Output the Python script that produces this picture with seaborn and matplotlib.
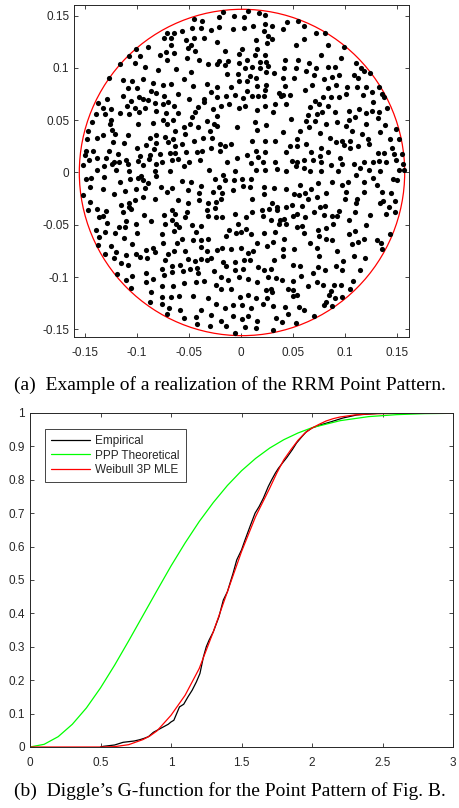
import matplotlib
matplotlib.use("Agg")
import matplotlib.pyplot as plt
import seaborn as sns
import pandas as pd
from matplotlib.patches import Circle

# ---------------- data: point pattern (coordinates in units of 1e-3) ----------------
points_milli = [
    # upper-left
    (-57,135),(-64,133),(-71,133),(-74,129),(-67,129),(-53,127),(-67,122),(-89,120),(-101,118),(-107,111),
    (-97,111),(-72,115),(-64,114),(-78,112),(-71,108),(-52,109),(-116,104),(-102,105),(-92,101),(-62,99),
    (-80,98),(-127,90),(-113,88),(-104,87),(-94,89),(-84,86),(-55,89),(-108,81),(-100,81),(-75,84),
    (-67,85),(-86,78),(-81,76),(-74,73),(-60,75),(-113,73),(-98,72),(-94,70),(-89,69),(-105,68),
    (-128,70),(-137,66),(-132,62),(-125,61),(-109,64),(-102,62),(-92,62),(-82,66),(-75,65),(-70,67),
    (-64,64),(-81,59),(-116,57),(-107,56),(-98,58),(-139,56),(-130,56),(-72,57),(-60,57),(-125,50),
    (-143,48),(-99,46),(-75,50),(-65,50),(-84,47),(-126,46),(-71,46),(-55,43),(-124,41),(-147,40),
    (-132,36),(-121,37),(-108,36),(-81,36),(-63,40),(-54,37),(-148,32),(-138,33),(-87,33),(-73,34),
    (-65,32),(-123,29),(-112,28),(-91,26),(-81,28),(-70,29),(-57,27),(-63,25),(-149,21),(-142,21),
    (-127,21),(-100,23),(-83,22),(-68,19),(-63,19),(-53,20),(-150,17),(-118,18),(-97,16),(-87,17),
    (-78,18),(-146,12),(-138,14),(-129,14),(-122,10),(-117,10),(-110,12),(-99,11),(-88,13),(-76,10),
    (-66,12),(-60,13),(-151,7),(-131,6),(-124,8),(-108,8),(-94,7),(-81,8),(-138,2),(-120,2),
    (-107,1),(-82,1),(-68,1),(-55,6),(-50,10),
    # lower-left
    (-149,-6),(-144,-5),(-131,-4),(-116,-9),(-106,-6),(-99,-5),(-96,-3),(-94,-7),(-89,-10),(-81,-3),
    (-57,-8),(-145,-14),(-132,-16),(-122,-21),(-111,-18),(-101,-16),(-92,-15),(-77,-14),(-71,-19),(-66,-15),
    (-51,-17),(-151,-22),(-145,-28),(-115,-31),(-107,-29),(-107,-33),(-102,-26),(-94,-23),(-82,-25),(-60,-26),
    (-51,-29),(-147,-36),(-138,-35),(-129,-37),(-113,-38),(-105,-35),(-136,-43),(-132,-42),(-128,-48),(-110,-46),
    (-93,-41),(-86,-46),(-74,-41),(-66,-36),(-63,-40),(-52,-38),(-73,-49),(-66,-45),(-62,-49),(-54,-43),
    (-139,-55),(-130,-57),(-121,-58),(-117,-52),(-111,-52),(-101,-49),(-100,-58),(-64,-56),(-59,-52),(-136,-62),
    (-112,-63),(-76,-59),(-57,-64),(-137,-69),(-125,-70),(-104,-68),(-75,-67),(-61,-67),(-130,-78),(-120,-76),
    (-110,-79),(-101,-78),(-97,-81),(-91,-74),(-84,-72),(-82,-76),(-70,-78),(-64,-75),(-54,-75),(-122,-82),
    (-115,-87),(-108,-88),(-90,-82),(-73,-84),(-66,-89),(-58,-88),(-51,-83),(-91,-96),(-76,-92),(-66,-95),
    (-56,-94),(-119,-97),(-104,-99),(-74,-98),(-110,-103),(-91,-105),(-84,-102),(-105,-110),(-76,-109),(-65,-109),
    (-55,-106),(-86,-114),(-76,-119),(-67,-119),(-59,-118),(-87,-124),(-76,-126),(-69,-130),(-71,-135),(-58,-131),
    (-55,-139),
    # upper-middle
    (-45,147),(-37,145),(-21,149),(-17,153),(-7,150),(3,149),(7,154),(17,152),(23,151),(-47,138),
    (-38,138),(-29,136),(-21,139),(-8,137),(3,138),(12,140),(23,142),(22,135),(30,140),(40,137),
    (44,144),(-45,129),(-35,129),(-23,125),(14,127),(26,130),(30,128),(25,124),(53,122),(-51,119),
    (-44,116),(-48,122),(-15,116),(1,118),(-2,113),(15,118),(23,112),(-40,108),(-32,104),(-23,104),
    (-21,107),(-15,103),(-12,107),(-2,105),(6,108),(13,112),(4,100),(11,101),(18,106),(24,106),
    (18,100),(26,102),(42,108),(53,100),(-48,96),(-13,94),(-3,94),(9,92),(24,96),(32,95),
    (41,100),(-2,87),(14,90),(40,90),(51,90),(-46,83),(-33,85),(-23,82),(-10,82),(6,87),
    (15,83),(24,84),(42,83),(-29,77),(6,78),(23,79),(-50,70),(-35,70),(-35,67),(-23,72),
    (-14,73),(-6,74),(2,71),(11,73),(16,73),(22,73),(36,76),(38,73),(40,74),(47,74),
    (-41,63),(-27,61),(-19,64),(-11,65),(-2,62),(4,64),(23,64),(33,65),(43,65),(-44,58),
    (-47,53),(-23,54),(15,60),(31,58),(48,51),(-33,49),(-26,46),(-49,46),(13,48),(24,45),
    (-41,43),(-30,40),(-23,44),(-4,43),(15,41),(40,39),(-36,33),(-28,33),(-45,30),(-20,27),
    (-15,25),(-10,27),(11,30),(23,30),(33,30),(47,25),(54,32),(-42,20),(-37,21),(-29,23),
    (-20,21),(6,17),(14,21),(23,20),(43,20),(-4,14),(10,9),(16,15),(21,10),(33,10),
    (49,11),(-39,12),(-31,2),(-13,10),(-6,1),(14,2),(23,2),(35,3),(43,1),(53,6),
    # upper-right
    (55,145),(60,140),(60,128),(72,133),(81,133),(83,122),(99,120),(77,112),(96,109),(55,108),
    (65,105),(62,97),(72,100),(83,101),(90,101),(110,105),(115,100),(118,97),(124,95),(70,93),
    (80,89),(87,91),(94,93),(108,93),(112,90),(68,84),(61,79),(83,81),(91,84),(102,82),
    (111,82),(120,82),(132,82),(126,77),(135,75),(137,72),(79,72),(86,72),(94,72),(101,75),
    (117,74),(71,68),(75,65),(66,63),(83,64),(127,67),(140,62),(78,58),(73,56),(64,55),
    (90,58),(104,59),(113,61),(120,57),(126,59),(132,58),(62,49),(71,49),(92,48),(101,44),
    (104,50),(109,53),(120,46),(131,52),(138,45),(149,42),(57,40),(65,43),(82,46),(76,38),
    (85,33),(91,29),(97,30),(105,30),(106,40),(116,37),(122,32),(133,39),(143,32),(152,32),
    (54,25),(62,27),(77,23),(67,20),(83,20),(95,14),(99,26),(105,23),(112,25),(123,27),
    (131,19),(137,19),(145,23),(147,18),(154,18),(54,10),(60,12),(69,12),(76,16),(77,10),
    (86,7),(97,8),(108,8),(114,4),(118,10),(127,10),(132,11),(139,10),(149,12),(155,8),
    (60,4),(66,1),(77,1),(93,1),(123,2),(133,1),(152,2),(156,2),
    # lower-middle
    (-48,-9),(-38,-13),(-25,-6),(-17,-2),(-15,-7),(-7,-7),(1,-6),(10,-6),(-40,-20),(-27,-19),
    (-21,-14),(-18,-20),(-8,-17),(2,-13),(9,-14),(22,-14),(22,-21),(32,-15),(43,-16),(51,-21),
    (-40,-26),(-32,-29),(-24,-28),(-19,-25),(11,-25),(30,-29),(35,-33),(35,-36),(20,-36),(27,-35),
    (43,-33),(49,-31),(-33,-36),(-25,-34),(-32,-42),(-24,-43),(-18,-43),(-6,-40),(5,-43),(11,-38),
    (21,-42),(29,-45),(37,-45),(41,-44),(50,-42),(-47,-50),(-38,-51),(-3,-49),(36,-49),(43,-49),
    (-43,-57),(-11,-55),(-5,-58),(0,-57),(5,-54),(10,-59),(22,-58),(33,-57),(-46,-65),(-38,-65),
    (-32,-64),(-14,-61),(15,-67),(25,-70),(31,-66),(41,-64),(-38,-71),(-33,-75),(-23,-74),(-18,-72),
    (-10,-73),(0,-72),(7,-77),(12,-75),(40,-73),(51,-73),(-44,-85),(-38,-83),(-33,-84),(-29,-82),
    (-17,-86),(-6,-86),(3,-84),(9,-84),(32,-84),(40,-80),(-49,-92),(-42,-91),(-41,-96),(-26,-94),
    (-14,-89),(-6,-93),(2,-92),(16,-90),(22,-93),(29,-92),(50,-88),(-43,-105),(-35,-104),(-24,-108),
    (-19,-100),(-19,-111),(-12,-103),(-2,-100),(7,-102),(15,-105),(26,-100),(34,-101),(39,-103),(50,-104),
    (24,-112),(29,-111),(30,-114),(45,-111),(50,-112),(-46,-118),(-32,-120),(-10,-111),(-1,-119),(7,-117),
    (14,-120),(25,-120),(50,-118),(-24,-126),(-15,-130),(-8,-127),(1,-127),(10,-130),(21,-126),(31,-128),
    (42,-129),(-38,-131),(-43,-138),(-29,-136),(-19,-142),(-8,-137),(1,-140),(7,-137),(15,-142),(34,-139),
    (39,-143),(53,-144),(45,-135),(-42,-145),(-30,-147),(-14,-147),(4,-148),(14,-149),(31,-151),(-6,-153),
    # lower-right
    (110,-2),(127,-5),(146,-6),(150,-7),(57,-12),(67,-16),(74,-10),(87,-9),(97,-12),(103,-9),
    (118,-9),(130,-12),(56,-22),(61,-20),(64,-25),(73,-23),(82,-20),(100,-25),(101,-19),(111,-25),
    (110,-29),(118,-19),(135,-19),(144,-20),(133,-29),(136,-27),(148,-27),(59,-32),(76,-33),(81,-32),
    (70,-38),(54,-40),(61,-43),(80,-41),(87,-42),(92,-42),(94,-37),(104,-45),(109,-38),(124,-41),
    (139,-40),(148,-38),(142,-33),(54,-52),(59,-51),(60,-58),(74,-55),(82,-53),(88,-49),(120,-50),
    (109,-56),(104,-59),(75,-61),(66,-67),(82,-64),(87,-65),(106,-68),(112,-66),(118,-64),(130,-65),
    (134,-67),(143,-59),(135,-73),(73,-72),(92,-75),(75,-80),(108,-80),(119,-82),(98,-85),(57,-89),
    (74,-90),(81,-93),(91,-89),(69,-96),(97,-93),(114,-93),(58,-99),(73,-105),(79,-108),(89,-108),
    (96,-108),(107,-104),(64,-109),(54,-117),(86,-113),(84,-117),(90,-120),(97,-119),(105,-111),(82,-124),
    (80,-127),(87,-128),(56,-129),(60,-131),(70,-137),
]

circle_radius = 0.156
circle_center = (0.001, 0.0)

top_ticks = [-0.15, -0.1, -0.05, 0, 0.05, 0.1, 0.15]
top_tick_labels = ["-0.15", "-0.1", "-0.05", "0", "0.05", "0.1", "0.15"]

# ---------------- data: G-functions ----------------
emp_r = [0.50, 0.52, 0.56, 0.60, 0.63, 0.66, 0.70, 0.74, 0.78, 0.81,
         0.84, 0.875, 0.91, 0.945, 0.98, 1.00, 1.02, 1.04, 1.06, 1.09,
         1.12, 1.15, 1.18, 1.205, 1.23, 1.25, 1.27, 1.30, 1.34, 1.371,
         1.40, 1.418, 1.44, 1.466, 1.50, 1.525, 1.56, 1.596, 1.625, 1.655,
         1.69, 1.714, 1.74, 1.761, 1.79, 1.82, 1.86, 1.89, 1.93, 1.96,
         2.00, 2.057, 2.13, 2.22, 2.317, 2.41, 2.50]
emp_g = [0.0, 0.002, 0.004, 0.006, 0.010, 0.014, 0.016, 0.018, 0.022, 0.026,
         0.031, 0.044, 0.052, 0.060, 0.068, 0.075, 0.08, 0.10, 0.12, 0.128,
         0.15, 0.17, 0.195, 0.22, 0.27, 0.30, 0.32, 0.345, 0.39, 0.44,
         0.465, 0.49, 0.52, 0.56, 0.59, 0.62, 0.66, 0.70, 0.72, 0.745,
         0.78, 0.80, 0.82, 0.834, 0.85, 0.866, 0.89, 0.91, 0.93, 0.944,
         0.955, 0.964, 0.973, 0.985, 0.994, 0.997, 1.0]

ppp_r = [0, 0.1, 0.2, 0.3, 0.4, 0.5, 0.6, 0.7, 0.8, 0.9, 1.0, 1.1, 1.2, 1.3,
         1.4, 1.5, 1.6, 1.7, 1.8, 1.9, 2.0, 2.2, 2.4, 2.6, 2.8, 3.0]
ppp_g = [0, 0.008, 0.031, 0.068, 0.117, 0.177, 0.245, 0.318, 0.393, 0.468,
         0.542, 0.611, 0.675, 0.732, 0.783, 0.827, 0.864, 0.895, 0.920, 0.940,
         0.956, 0.977, 0.989, 0.995, 0.998, 0.999]

wb_r = [0, 0.5, 0.6, 0.7, 0.8, 0.85, 0.9, 1.0, 1.1, 1.2, 1.3, 1.4, 1.5, 1.6,
        1.7, 1.75, 1.8, 1.85, 1.9, 1.95, 2.0, 2.05, 2.1, 2.15, 2.2, 2.3, 2.4,
        2.6, 2.8, 3.0]
wb_g = [0, 0, 0.001, 0.007, 0.022, 0.033, 0.048, 0.095, 0.155, 0.235, 0.345,
        0.465, 0.585, 0.69, 0.775, 0.82, 0.86, 0.89, 0.918, 0.94, 0.955, 0.966,
        0.976, 0.983, 0.988, 0.994, 0.997, 0.999, 1.0, 1.0]

series_labels = ["Empirical", "PPP Theoretical", "Weibull 3P MLE"]

bottom_xticks = [0, 0.5, 1, 1.5, 2, 2.5, 3]
bottom_xtick_labels = ["0", "0.5", "1", "1.5", "2", "2.5", "3"]
bottom_yticks = [0, 0.1, 0.2, 0.3, 0.4, 0.5, 0.6, 0.7, 0.8, 0.9, 1.0]
bottom_ytick_labels = ["0", "0.1", "0.2", "0.3", "0.4", "0.5", "0.6", "0.7", "0.8", "0.9", "1"]

caption_a = "(a)  Example of a realization of the RRM Point Pattern."
caption_b = "(b)  Diggle\u2019s G-function for the Point Pattern of Fig. B."

# ---------------- style ----------------
sns.set_style("white")
plt.rcParams["font.family"] = ["Liberation Sans", "DejaVu Sans"]
AX_COLOR = "#262626"


def style_axes(ax):
    for sp in ax.spines.values():
        sp.set_color(AX_COLOR)
        sp.set_linewidth(0.7)
        sp.set_visible(True)
    ax.tick_params(direction="in", length=2.6, width=0.6, color=AX_COLOR,
                   labelcolor=AX_COLOR, labelsize=8.5, top=True, right=True,
                   bottom=True, left=True)
    ax.tick_params(axis="x", pad=7)
    ax.tick_params(axis="y", pad=3.5)
    ax.set_xlabel("")
    ax.set_ylabel("")


fig = plt.figure(figsize=(4.59, 8.08), dpi=100)

# ---------------- top: point pattern ----------------
pts = pd.DataFrame(points_milli, columns=["x", "y"]) / 1000.0
ax1 = fig.add_axes([0.1612, 0.5829, 0.7298, 0.4109])
sns.scatterplot(data=pts, x="x", y="y", ax=ax1, color="black", s=14,
                linewidth=0, legend=False, zorder=3)
ax1.add_patch(Circle(circle_center, circle_radius, fill=False,
                     edgecolor="#ff0000", linewidth=0.9, zorder=2))
ax1.set_xlim(-0.1601, 0.1611)
ax1.set_ylim(-0.1573, 0.1601)
ax1.set_xticks(top_ticks)
ax1.set_xticklabels(top_tick_labels)
ax1.set_yticks(top_ticks)
ax1.set_yticklabels(top_tick_labels)
style_axes(ax1)

# ---------------- bottom: G-functions ----------------
ax2 = fig.add_axes([0.0654, 0.0755, 0.9216, 0.4134])
sns.lineplot(x=emp_r, y=emp_g, ax=ax2, color="black", linewidth=0.9,
             label=series_labels[0], estimator=None, sort=False)
sns.lineplot(x=ppp_r, y=ppp_g, ax=ax2, color="#00ff00", linewidth=0.9,
             label=series_labels[1], estimator=None, sort=False)
sns.lineplot(x=wb_r, y=wb_g, ax=ax2, color="#ff0000", linewidth=0.9,
             label=series_labels[2], estimator=None, sort=False)
ax2.set_xlim(0, 3)
ax2.set_ylim(0, 1)
ax2.set_xticks(bottom_xticks)
ax2.set_xticklabels(bottom_xtick_labels)
ax2.set_yticks(bottom_yticks)
ax2.set_yticklabels(bottom_ytick_labels)
style_axes(ax2)
leg = ax2.legend(loc="upper left", bbox_to_anchor=(0.0355, 0.952),
                 borderaxespad=0, frameon=True, fancybox=False,
                 edgecolor=AX_COLOR, framealpha=1, fontsize=8.5,
                 handlelength=3.3, handletextpad=0.45, labelspacing=0.22,
                 borderpad=0.5)
leg.get_frame().set_linewidth(0.6)
for t in leg.get_texts():
    t.set_color(AX_COLOR)

# ---------------- captions ----------------
fig.text(0.5, 1 - 385 / 808, caption_a, ha="center", va="center", fontsize=14,
         family=["Liberation Serif", "DejaVu Serif"], color="black")
fig.text(0.5, 1 - 791 / 808, caption_b, ha="center", va="center", fontsize=14,
         family=["Liberation Serif", "DejaVu Serif"], color="black")

fig.savefig("out.png", dpi=100)
